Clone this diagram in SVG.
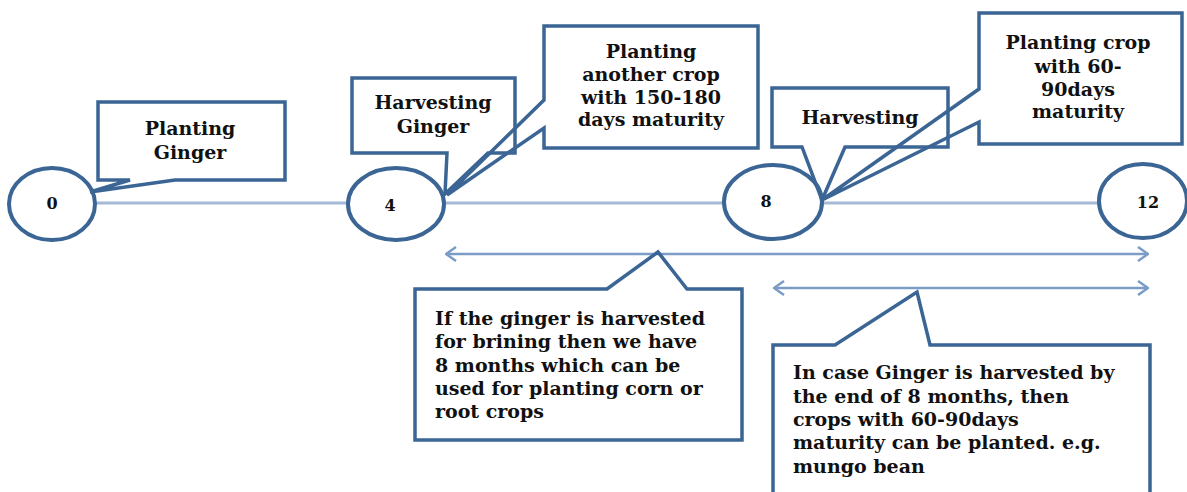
<svg xmlns="http://www.w3.org/2000/svg" width="1187" height="492" viewBox="0 0 1187 492">
  <style>
    .bg { fill: #ffffff; }
    .axis { stroke: #a3b9d5; stroke-width: 3; fill: none; }
    .span { stroke: #7a9cc6; stroke-width: 2.5; fill: none; }
    .month { fill: #ffffff; stroke: #3a6594; stroke-width: 4; }
    .callout { fill: none; stroke: #3a6594; stroke-width: 3.5; stroke-linejoin: miter; }
    .lbl { font-family: "DejaVu Serif", "Liberation Serif", serif; font-weight: bold; font-size: 19px; fill: #111111; }
    .mid { text-anchor: middle; }
    .num { font-family: "DejaVu Serif", "Liberation Serif", serif; font-weight: bold; font-size: 16px; fill: #111111; text-anchor: middle; }
  </style>
  <defs>
    <marker id="chev" viewBox="0 0 12 16" refX="11" refY="8" markerWidth="12" markerHeight="16" markerUnits="userSpaceOnUse" orient="auto-start-reverse">
      <path d="M1,1 L11,8 L1,15" fill="none" stroke="#7a9cc6" stroke-width="2.5"/>
    </marker>
  </defs>

  <rect class="bg" x="0" y="0" width="1187" height="492"/>

  <!-- timeline axis and spans -->
  <g id="connectors">
    <line class="axis" x1="52" y1="203" x2="1145" y2="203"/>
    <line class="span" x1="446" y1="254" x2="1148" y2="254" marker-start="url(#chev)" marker-end="url(#chev)"/>
    <line class="span" x1="774" y1="288" x2="1148" y2="288" marker-start="url(#chev)" marker-end="url(#chev)"/>
  </g>

  <!-- month markers -->
  <g id="month-0">
    <ellipse class="month" cx="52" cy="204" rx="43" ry="36"/>
    <text class="num" x="52" y="209">0</text>
  </g>
  <g id="month-4">
    <ellipse class="month" cx="396" cy="204" rx="48" ry="36"/>
    <text class="num" x="390" y="211">4</text>
  </g>
  <g id="month-8">
    <ellipse class="month" cx="773" cy="202" rx="49" ry="37"/>
    <text class="num" x="766" y="207">8</text>
  </g>
  <g id="month-12">
    <ellipse class="month" cx="1143" cy="201" rx="44" ry="37"/>
    <text class="num" x="1148" y="208">12</text>
  </g>

  <!-- callouts -->
  <g id="planting-ginger">
    <path class="callout" d="M98,102 H285 V180 H175 L90,192 L130,180 H98 Z"/>
    <text class="lbl mid" x="190" y="135">Planting</text>
    <text class="lbl mid" x="190" y="159">Ginger</text>
  </g>
  <g id="harvesting-ginger">
    <path class="callout" d="M352,78 H515 V153 H488 L445,194 L447,153 H352 Z"/>
    <text class="lbl mid" x="433" y="109">Harvesting</text>
    <text class="lbl mid" x="433" y="133">Ginger</text>
  </g>
  <g id="planting-another-crop">
    <path class="callout" d="M544,26 H758 V148 H544 V128 L447,195 L544,100 Z"/>
    <text class="lbl mid" x="651" y="58">Planting</text>
    <text class="lbl mid" x="651" y="81">another crop</text>
    <text class="lbl mid" x="651" y="104">with 150-180</text>
    <text class="lbl mid" x="651" y="126">days maturity</text>
  </g>
  <g id="harvesting">
    <path class="callout" d="M772,88 H948 V147 H845 L822,200 L802,147 H772 Z"/>
    <text class="lbl mid" x="860" y="124">Harvesting</text>
  </g>
  <g id="planting-short-crop">
    <path class="callout" d="M979,13 H1182 V144 H979 V122 L822,200 L979,89 Z"/>
    <text class="lbl mid" x="1078" y="49">Planting crop</text>
    <text class="lbl mid" x="1078" y="73">with 60-</text>
    <text class="lbl mid" x="1078" y="96">90days</text>
    <text class="lbl mid" x="1078" y="118">maturity</text>
  </g>
  <g id="brining-note">
    <path class="callout" d="M415,289 H607 L658,252 L687,289 H742 V440 H415 Z"/>
    <text class="lbl" x="435" y="325">If the ginger is harvested</text>
    <text class="lbl" x="435" y="348">for brining then we have</text>
    <text class="lbl" x="435" y="372">8 months which can be</text>
    <text class="lbl" x="435" y="395">used for planting corn or</text>
    <text class="lbl" x="435" y="418">root crops</text>
  </g>
  <g id="eight-month-note">
    <path class="callout" d="M773,345 H835 L917,292 L930,345 H1150 V500 H773 Z"/>
    <text class="lbl" x="793" y="379">In case Ginger is harvested by</text>
    <text class="lbl" x="793" y="403">the end of 8 months, then</text>
    <text class="lbl" x="793" y="426">crops with 60-90days</text>
    <text class="lbl" x="793" y="449">maturity can be planted. e.g.</text>
    <text class="lbl" x="793" y="473">mungo bean</text>
  </g>
</svg>
